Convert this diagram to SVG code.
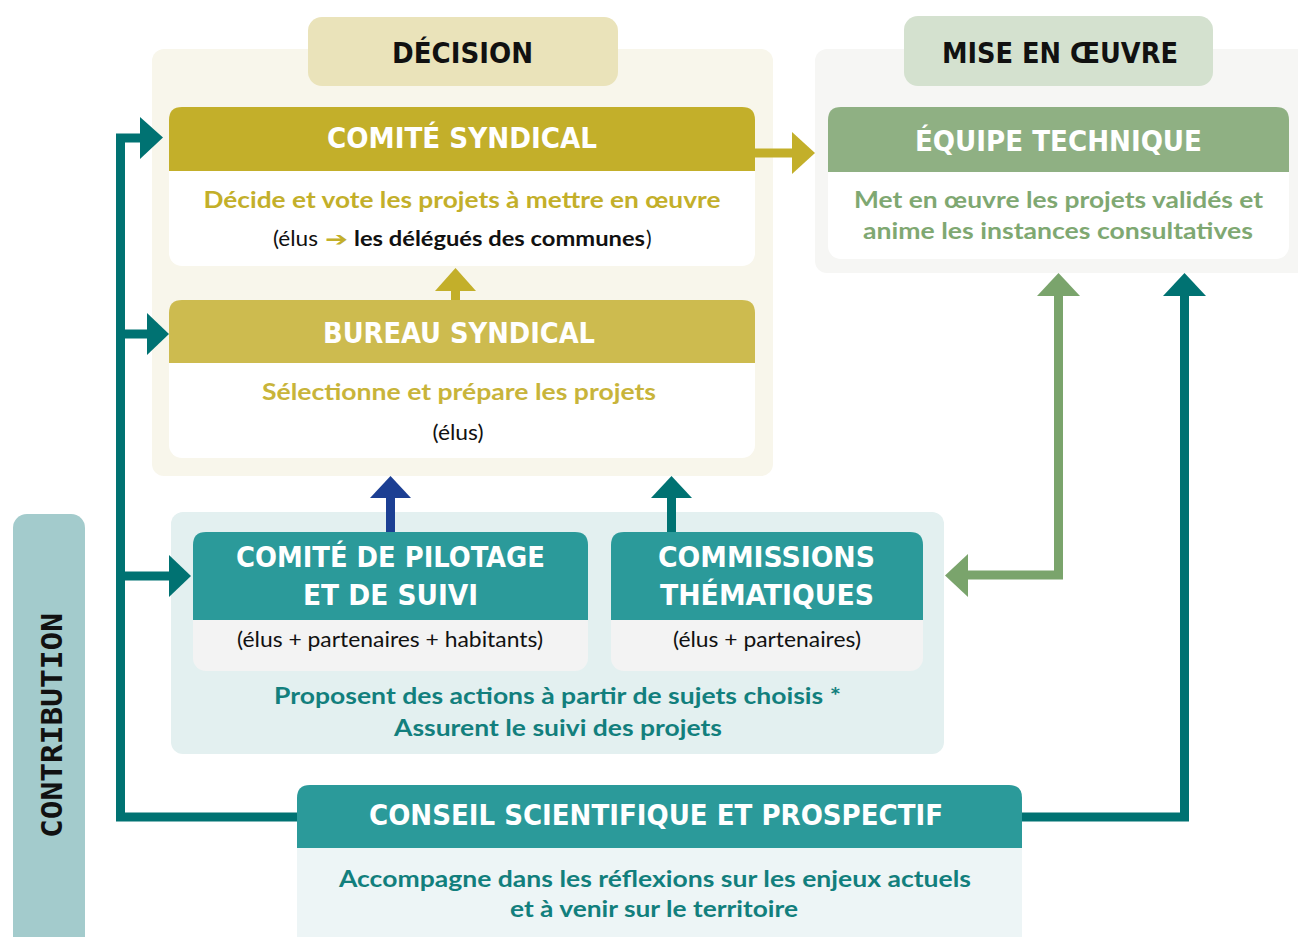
<svg xmlns="http://www.w3.org/2000/svg" width="1298" height="937" viewBox="0 0 1298 937">
<style>
.tab{font-family:"DejaVu Sans",sans-serif;font-weight:bold;font-size:28px;fill:#111;text-anchor:middle}
.ttl{font-family:"DejaVu Sans Condensed","DejaVu Sans",sans-serif;font-stretch:condensed;font-weight:bold;font-size:28px;fill:#fff;text-anchor:middle}
.bd{font-family:Lato,"Noto Sans",sans-serif;font-weight:bold;font-size:23px;text-anchor:middle}
.rg{font-family:Lato,"Noto Sans",sans-serif;font-size:21px;fill:#111;text-anchor:middle}
.yel{fill:#c3af2a}
.grn{fill:#7fa872}
.tea{fill:#127f7d}
.cw{fill:none;stroke-width:9;stroke-linejoin:miter}
</style>
<rect width="1298" height="937" fill="#fff"/>

<g id="decision-zone">
<rect x="152" y="49" width="621" height="427" rx="12" fill="#f8f6eb"/>
<rect x="308" y="17" width="310" height="69" rx="14" fill="#eae3ba"/>
<text class="tab" x="462.5" y="63" textLength="141" lengthAdjust="spacingAndGlyphs">DÉCISION</text>
</g>

<g id="mise-zone">
<rect x="815" y="49" width="500" height="224" rx="12" fill="#f6f6f4"/>
<rect x="904" y="16" width="309" height="70" rx="14" fill="#d4e1cf"/>
<text class="tab" x="1060" y="63" textLength="236" lengthAdjust="spacingAndGlyphs">MISE EN ŒUVRE</text>
</g>

<g id="contribution-zone">
<rect x="171" y="512" width="773" height="242" rx="12" fill="#e3f0f0"/>
<rect x="13" y="514" width="72" height="440" rx="14" fill="#a3cbcc"/>
<text class="tab" transform="translate(62,725.5) rotate(-90)" x="0" y="0" textLength="225" lengthAdjust="spacingAndGlyphs" style="font-family:'DejaVu Sans Mono','DejaVu Sans',monospace">CONTRIBUTION</text>
</g>

<g id="connectors">
<path class="cw" stroke="#007272" d="M297,817 H120.5 V138 H142 M120.5,334 H148 M120.5,576 H170"/>
<polygon fill="#007272" points="140,117 163,137.5 140,159"/>
<polygon fill="#007272" points="147,313 169,334 147,355"/>
<polygon fill="#007272" points="169,555 191,576 169,597"/>
<path class="cw" stroke="#c3af2a" stroke-width="11" d="M755,153 H793"/>
<polygon fill="#c3af2a" points="792,132 815,153 792,174"/>
<path class="cw" stroke="#c3af2a" d="M455.5,300 V289"/>
<polygon fill="#c3af2a" points="435,291 455.5,268 476,291"/>
<path class="cw" stroke="#1c3f93" d="M390.5,532 V496"/>
<polygon fill="#1c3f93" points="370,498 390.5,476 411,498"/>
<path class="cw" stroke="#007272" d="M671.5,532 V496"/>
<polygon fill="#007272" points="651,498 671.5,476 692,498"/>
<path class="cw" stroke="#007272" d="M1022,817 H1184.5 V294"/>
<polygon fill="#007272" points="1163,296 1184.5,273 1206,296"/>
<path class="cw" stroke="#7aa46c" d="M1058.5,294 V575 H966"/>
<polygon fill="#7aa46c" points="1037,296 1058.5,273 1080,296"/>
<polygon fill="#7aa46c" points="968,554 945,575.5 968,597"/>
</g>

<g id="comite-syndical">
<rect x="169" y="107" width="586" height="159" rx="13" fill="#fff"/>
<path d="M169,171 V120 Q169,107 182,107 H742 Q755,107 755,120 V171 Z" fill="#c3af2a"/>
<text class="ttl" x="462" y="148" textLength="270" lengthAdjust="spacingAndGlyphs">COMITÉ SYNDICAL</text>
<text class="bd yel" x="462" y="208" textLength="517" lengthAdjust="spacingAndGlyphs">Décide et vote les projets à mettre en œuvre</text>
<text class="rg" x="273" y="246" style="text-anchor:start" textLength="45" lengthAdjust="spacingAndGlyphs">(élus</text>
<text x="325" y="246" style="font-family:'DejaVu Sans',sans-serif;font-weight:bold;font-size:20px;fill:#c3af2a" textLength="23" lengthAdjust="spacingAndGlyphs">➔</text>
<text class="rg" x="354" y="246" style="text-anchor:start;font-weight:bold" textLength="291" lengthAdjust="spacingAndGlyphs">les délégués des communes</text>
<text class="rg" x="646" y="246" style="text-anchor:start">)</text>
</g>

<g id="bureau-syndical">
<rect x="169" y="300" width="586" height="158" rx="13" fill="#fff"/>
<path d="M169,363 V313 Q169,300 182,300 H742 Q755,300 755,313 V363 Z" fill="#cdbb4f"/>
<text class="ttl" x="459" y="343" textLength="272" lengthAdjust="spacingAndGlyphs">BUREAU SYNDICAL</text>
<text class="bd" x="459" y="400" fill="#c8b43a" textLength="394" lengthAdjust="spacingAndGlyphs">Sélectionne et prépare les projets</text>
<text class="rg" x="458" y="440" textLength="51" lengthAdjust="spacingAndGlyphs">(élus)</text>
</g>

<g id="equipe-technique">
<rect x="828" y="107" width="461" height="152" rx="13" fill="#fff"/>
<path d="M828,172 V120 Q828,107 841,107 H1276 Q1289,107 1289,120 V172 Z" fill="#8fb083"/>
<text class="ttl" x="1058.5" y="151" textLength="287" lengthAdjust="spacingAndGlyphs">ÉQUIPE TECHNIQUE</text>
<text class="bd grn" x="1058.5" y="208" textLength="409" lengthAdjust="spacingAndGlyphs">Met en œuvre les projets validés et</text>
<text class="bd grn" x="1058" y="239" textLength="390" lengthAdjust="spacingAndGlyphs">anime les instances consultatives</text>
</g>

<g id="comite-pilotage">
<rect x="193" y="532" width="395" height="139" rx="13" fill="#f3f3f3"/>
<path d="M193,620 V545 Q193,532 206,532 H575 Q588,532 588,545 V620 Z" fill="#2b9a9a"/>
<text class="ttl" x="390.5" y="567" textLength="309" lengthAdjust="spacingAndGlyphs">COMITÉ DE PILOTAGE</text>
<text class="ttl" x="390.5" y="605" textLength="175" lengthAdjust="spacingAndGlyphs">ET DE SUIVI</text>
<text class="rg" x="390" y="647" textLength="306" lengthAdjust="spacingAndGlyphs">(élus + partenaires + habitants)</text>
</g>

<g id="commissions">
<rect x="611" y="532" width="312" height="139" rx="13" fill="#f3f3f3"/>
<path d="M611,620 V545 Q611,532 624,532 H910 Q923,532 923,545 V620 Z" fill="#2b9a9a"/>
<text class="ttl" x="766.5" y="567" textLength="217" lengthAdjust="spacingAndGlyphs">COMMISSIONS</text>
<text class="ttl" x="767" y="605" textLength="214" lengthAdjust="spacingAndGlyphs">THÉMATIQUES</text>
<text class="rg" x="767" y="647" textLength="188" lengthAdjust="spacingAndGlyphs">(élus + partenaires)</text>
</g>

<g id="contribution-text">
<text class="bd tea" x="557.5" y="704" textLength="567" lengthAdjust="spacingAndGlyphs">Proposent des actions à partir de sujets choisis *</text>
<text class="bd tea" x="558" y="736" textLength="328" lengthAdjust="spacingAndGlyphs">Assurent le suivi des projets</text>
</g>

<g id="conseil-scientifique">
<rect x="297" y="785" width="725" height="170" rx="13" fill="#edf5f6"/>
<path d="M297,848 V798 Q297,785 310,785 H1009 Q1022,785 1022,798 V848 Z" fill="#2b9a9a"/>
<text class="ttl" x="656" y="825" textLength="574" lengthAdjust="spacingAndGlyphs">CONSEIL SCIENTIFIQUE ET PROSPECTIF</text>
<text class="bd tea" x="655" y="887" textLength="632" lengthAdjust="spacingAndGlyphs">Accompagne dans les réflexions sur les enjeux actuels</text>
<text class="bd tea" x="654" y="917" textLength="288" lengthAdjust="spacingAndGlyphs">et à venir sur le territoire</text>
</g>
</svg>
